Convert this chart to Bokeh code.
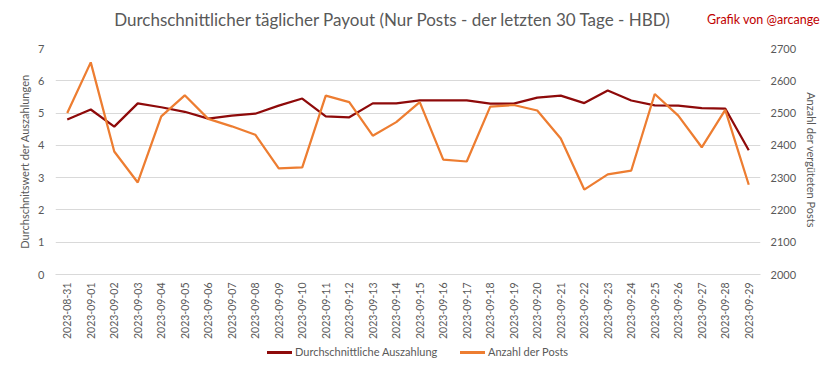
import math
from bokeh.plotting import figure
from bokeh.layouts import column
from bokeh.models import (Range1d, LinearAxis, FactorRange, Div, FixedTicker,
                          ColumnDataSource)
from bokeh.embed import file_html
from bokeh.resources import INLINE

dates = ["2023-08-31", "2023-09-01", "2023-09-02", "2023-09-03", "2023-09-04",
         "2023-09-05", "2023-09-06", "2023-09-07", "2023-09-08", "2023-09-09",
         "2023-09-10", "2023-09-11", "2023-09-12", "2023-09-13", "2023-09-14",
         "2023-09-15", "2023-09-16", "2023-09-17", "2023-09-18", "2023-09-19",
         "2023-09-20", "2023-09-21", "2023-09-22", "2023-09-23", "2023-09-24",
         "2023-09-25", "2023-09-26", "2023-09-27", "2023-09-28", "2023-09-29"]

avg_payout = [4.80, 5.11, 4.58, 5.30, 5.18, 5.04, 4.83, 4.92, 4.98, 5.23,
              5.45, 4.90, 4.87, 5.30, 5.30, 5.39, 5.39, 5.39, 5.29, 5.29,
              5.48, 5.54, 5.31, 5.70, 5.39, 5.24, 5.23, 5.15, 5.14, 3.85]

post_count = [2500, 2657, 2381, 2285, 2490, 2555, 2482, 2459, 2433, 2329,
              2332, 2554, 2534, 2430, 2472, 2534, 2356, 2350, 2520, 2525,
              2508, 2421, 2263, 2310, 2322, 2559, 2492, 2394, 2510, 2278]

left_ticks = [0, 1, 2, 3, 4, 5, 6, 7]
right_ticks = [2000, 2100, 2200, 2300, 2400, 2500, 2600, 2700]

title_text = "Durchschnittlicher täglicher Payout (Nur Posts - der letzten 30 Tage - HBD)"
credit_text = "Grafik von @arcange"
left_label = "Durchschnitswert der Auszahlungen"
right_label = "Anzahl der vergüteten  Posts"
legend_labels = ["Durchschnittliche Auszahlung", "Anzahl der Posts"]

FONT = "Lato"
GRAY = "#595959"
RED = "#8E0A0A"
ORANGE = "#ED7D31"
colors = [RED, ORANGE]

src = ColumnDataSource(dict(d=dates, pay=avg_payout, cnt=post_count))

fig = figure(frame_width=705, frame_height=226,
             x_range=FactorRange(*dates, range_padding=0.0, factor_padding=0.0),
             y_range=Range1d(0, 7), output_backend="svg", toolbar_location=None,
             min_border_left=55, min_border_right=73, min_border_top=6,
             min_border_bottom=0)
fig.outline_line_color = None
fig.background_fill_color = "white"
fig.border_fill_color = "white"

fig.extra_y_ranges = {"posts": Range1d(2000, 2700)}

# Left axis
ax = fig.yaxis[0]
ax.ticker = FixedTicker(ticks=left_ticks)
ax.axis_line_color = None
ax.major_tick_line_color = None
ax.minor_tick_line_color = None
ax.major_tick_out = 0
ax.major_tick_in = 0
ax.major_label_text_font = FONT
ax.major_label_text_font_size = "11px"
ax.major_label_text_color = GRAY
ax.major_label_standoff = 11
ax.axis_label = left_label
ax.axis_label_text_font = FONT
ax.axis_label_text_font_size = "11px"
ax.axis_label_text_font_style = "normal"
ax.axis_label_text_color = GRAY
ax.axis_label_standoff = 4

# Right axis
rax = LinearAxis(y_range_name="posts", ticker=FixedTicker(ticks=right_ticks))
rax.axis_line_color = None
rax.major_tick_line_color = None
rax.minor_tick_line_color = None
rax.major_tick_out = 0
rax.major_tick_in = 0
rax.major_label_text_font = FONT
rax.major_label_text_font_size = "11px"
rax.major_label_text_color = GRAY
rax.major_label_standoff = 10
rax.axis_label = right_label
rax.axis_label_text_font = FONT
rax.axis_label_text_font_size = "11px"
rax.axis_label_text_font_style = "normal"
rax.axis_label_text_color = GRAY
rax.axis_label_standoff = 6
fig.add_layout(rax, "right")

# X axis
xa = fig.xaxis[0]
xa.major_label_orientation = math.pi / 2
xa.axis_line_color = "#d9d9d9"
xa.major_tick_line_color = None
xa.minor_tick_line_color = None
xa.major_tick_out = 0
xa.major_tick_in = 0
xa.major_label_text_font = FONT
xa.major_label_text_font_size = "10.5px"
xa.major_label_text_color = GRAY
xa.major_label_standoff = 8

fig.xgrid.grid_line_color = None
fig.ygrid.grid_line_color = "#d9d9d9"
fig.ygrid.ticker = FixedTicker(ticks=left_ticks)

fig.line("d", "pay", source=src, line_color=RED, line_width=2.25)
fig.line("d", "cnt", source=src, y_range_name="posts", line_color=ORANGE, line_width=2.25)

header = Div(
    text=(f'<div style="position:relative;width:833px;height:42px;font-family:Lato;">'
          f'<span style="position:absolute;left:392px;top:20px;transform:translate(-50%,-50%);'
          f'white-space:nowrap;font-size:17px;color:{GRAY};">{title_text}</span>'
          f'<span style="position:absolute;left:707px;top:20px;transform:translate(0,-50%);'
          f'white-space:nowrap;font-size:12.5px;color:#C00000;">{credit_text}</span></div>'),
    width=833, height=42, margin=0)

legend_lefts = [267, 460]
items = "".join(
    f'<span style="position:absolute;left:{lx}px;top:0px;height:20px;display:flex;'
    f'align-items:center;white-space:nowrap;font-size:11px;color:{GRAY};">'
    f'<span style="display:inline-block;width:25px;height:3px;background:{c};'
    f'margin-right:3px;"></span>{lab}</span>'
    for lx, c, lab in zip(legend_lefts, colors, legend_labels))
footer = Div(
    text=(f'<div style="position:relative;width:833px;height:30px;font-family:Lato;'
          f'padding-top:7px;">{items}</div>'),
    width=833, height=30, margin=0)

p = column(header, fig, footer, spacing=0, margin=0)

open("out.html", "w").write(file_html(p, INLINE))
